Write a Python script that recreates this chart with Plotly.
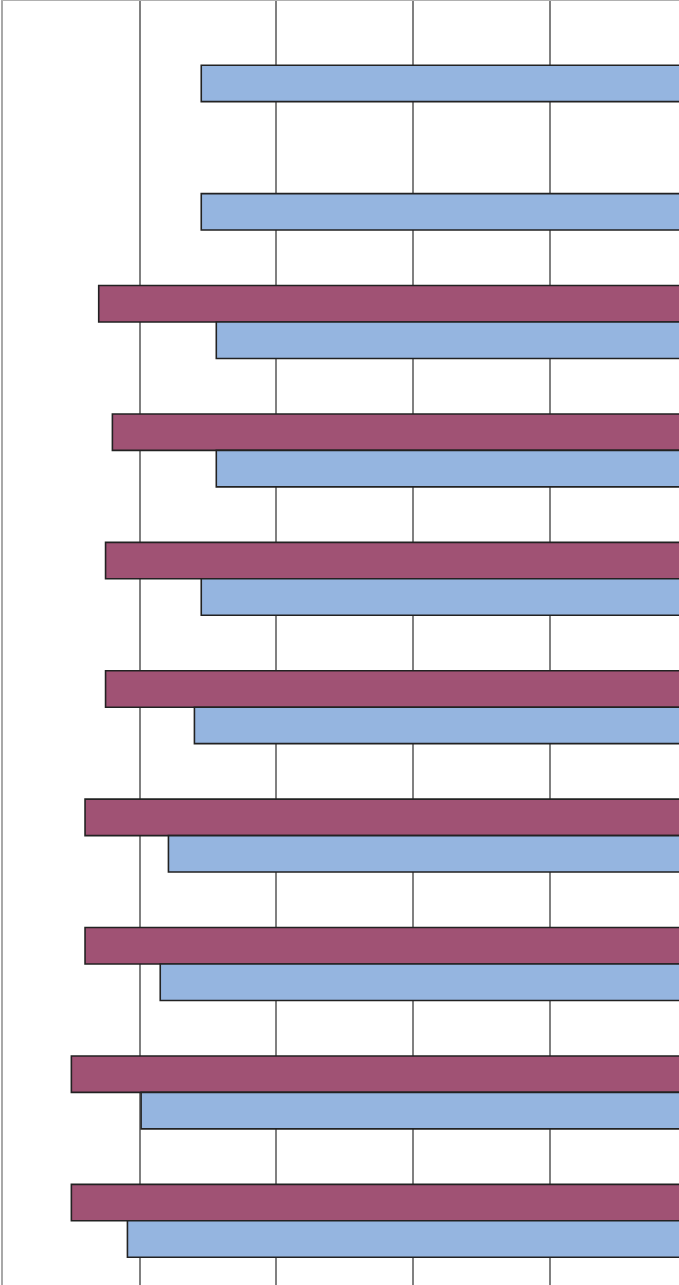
import plotly.graph_objects as go

categories = ["C1", "C2", "C3", "C4", "C5", "C6", "C7", "C8", "C9", "C10"]
series_maroon = [None, None, 4.30, 4.20, 4.25, 4.25, 4.40, 4.40, 4.50, 4.50]
series_blue = [3.55, 3.55, 3.44, 3.44, 3.55, 3.60, 3.79, 3.85, 3.99, 4.09]

fig = go.Figure()
fig.add_trace(go.Bar(y=categories, x=series_maroon, orientation="h",
                     marker=dict(color="#A05274", line=dict(color="#222222", width=1.6)),
                     name="Series 2"))
fig.add_trace(go.Bar(y=categories, x=series_blue, orientation="h",
                     marker=dict(color="#95B5E0", line=dict(color="#222222", width=1.6)),
                     name="Series 1"))

fig.update_layout(
    width=679, height=1285,
    margin=dict(l=3, r=0, t=1, b=0),
    barmode="group", bargap=0.432, bargroupgap=0,
    plot_bgcolor="white", paper_bgcolor="white",
    showlegend=False,
    xaxis=dict(range=[5.0, 0.056], dtick=1, tick0=0, showgrid=True,
               gridcolor="#808080", gridwidth=1.5, zeroline=False,
               showticklabels=False, ticks="", side="top",
               showline=True, linecolor="#b0b0b0", linewidth=1.5),
    yaxis=dict(autorange="reversed", showgrid=False, showticklabels=False,
               ticks="", zeroline=False, showline=True, linecolor="#a8a8a8",
               linewidth=2),
)
fig.write_html("out.html", config={"displayModeBar": False},
               post_script="document.body.style.margin='0';")
